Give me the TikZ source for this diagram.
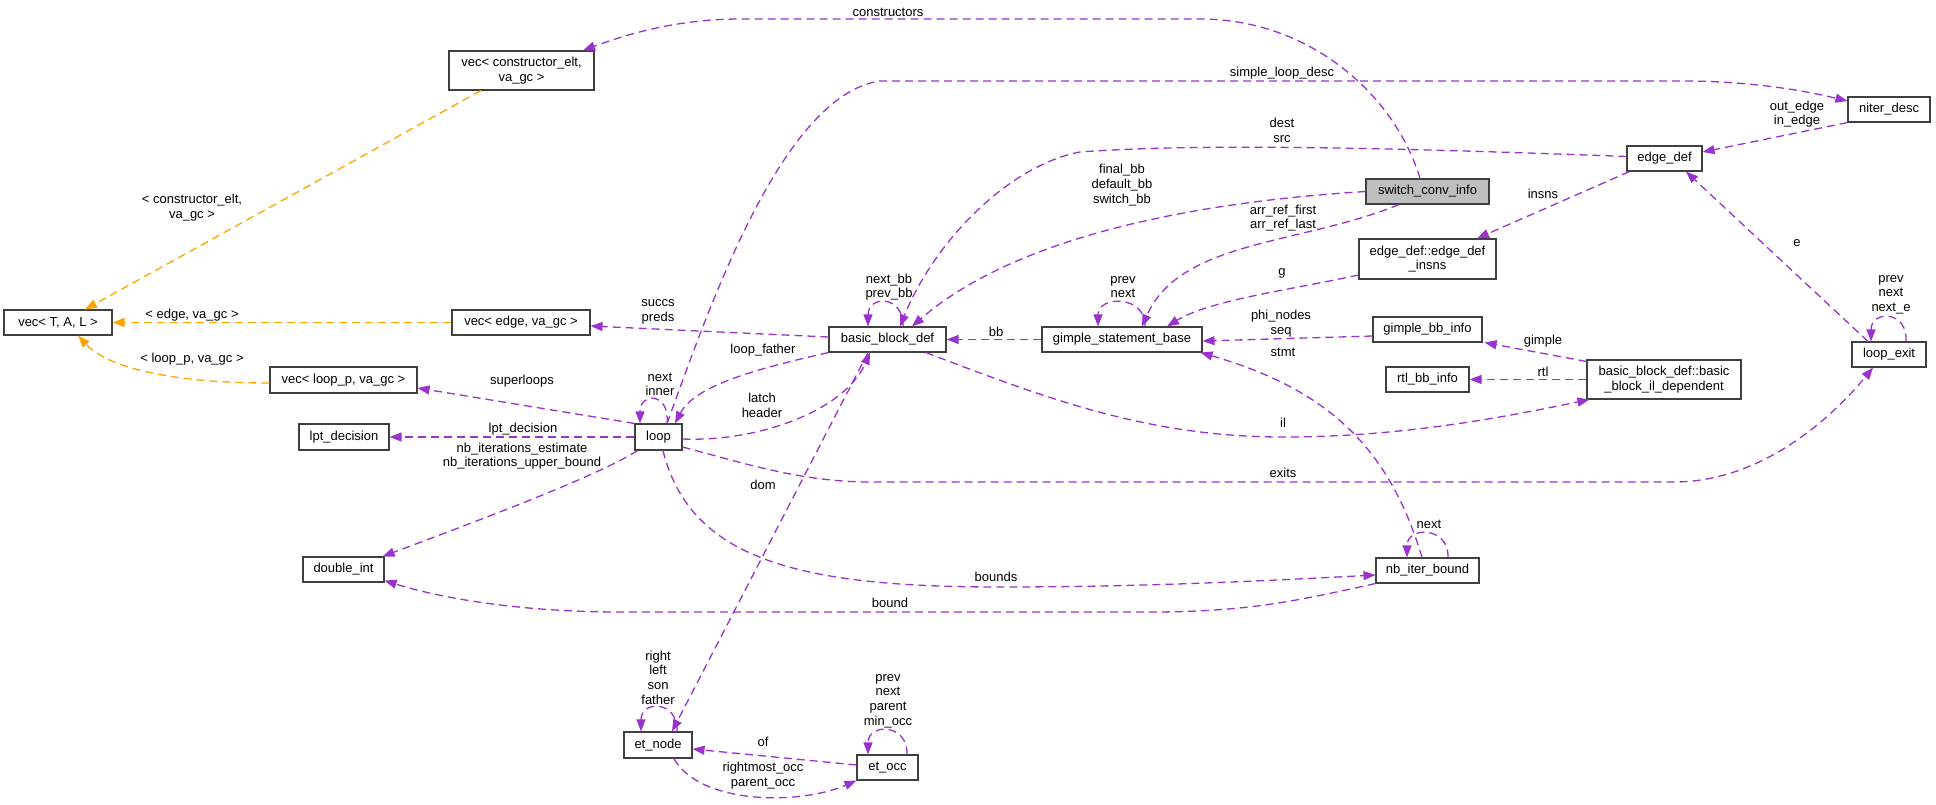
\documentclass[tikz,border=0pt]{standalone}
\usepackage{fontspec}
\setmainfont{Liberation Sans}
\usetikzlibrary{arrows.meta}
\definecolor{edgepurple}{HTML}{9A32CD}
\definecolor{edgeorange}{HTML}{FFA500}
\definecolor{boxline}{HTML}{404040}
\definecolor{boxgray}{HTML}{BFBFBF}
\tikzset{
  cls/.style={draw=boxline, line width=1.1pt, fill=white, inner sep=0pt, align=center,
    font=\fontsize{13}{14.7}\selectfont},
  lbl/.style={inner sep=0pt, align=center, font=\fontsize{13}{14.7}\selectfont},
  uses/.style={draw=edgepurple, line width=1.3pt, dash pattern=on 8pt off 5pt,
    -{Triangle[length=12pt,width=9pt]}},
  tmpl/.style={draw=edgeorange, line width=1.3pt, dash pattern=on 8pt off 5pt,
    -{Triangle[length=12pt,width=9pt]}},
}
\begin{document}
\begin{tikzpicture}[x=1pt,y=-1pt]
\useasboundingbox (0,0) rectangle (1936,804);

% ---------- nodes ----------
\node[cls, minimum width=145pt, minimum height=39pt] (vcelt) at (521.5,70.5) {vec< constructor\_elt,\\va\_gc >};
\node[cls, minimum width=108pt, minimum height=25pt] (vtal) at (58,322.5) {vec< T, A, L >};
\node[cls, minimum width=138pt, minimum height=25pt] (vedge) at (521,322.5) {vec< edge, va\_gc >};
\node[cls, minimum width=147pt, minimum height=26pt] (vloop) at (343.5,380) {vec< loop\_p, va\_gc >};
\node[cls, minimum width=90pt, minimum height=26pt] (lpt) at (344,437) {lpt\_decision};
\node[cls, minimum width=47pt, minimum height=26pt] (loop) at (658.5,437) {loop};
\node[cls, minimum width=81pt, minimum height=25pt] (dint) at (343.5,569.5) {double\_int};
\node[cls, minimum width=68pt, minimum height=26pt] (etnode) at (658,745) {et\_node};
\node[cls, minimum width=61pt, minimum height=25pt] (etocc) at (887.5,767.5) {et\_occ};
\node[cls, minimum width=117pt, minimum height=25pt] (bbd) at (887.5,339.5) {basic\_block\_def};
\node[cls, minimum width=160pt, minimum height=25pt] (gsb) at (1122,339.5) {gimple\_statement\_base};
\node[cls, fill=boxgray, minimum width=123pt, minimum height=25pt] (scinfo) at (1427.5,191.5) {switch\_conv\_info};
\node[cls, minimum width=137pt, minimum height=40pt] (edefins) at (1427.5,259) {edge\_def::edge\_def\\\_insns};
\node[cls, minimum width=109pt, minimum height=25pt] (gbbinfo) at (1427.5,329.5) {gimple\_bb\_info};
\node[cls, minimum width=83pt, minimum height=25pt] (rtl) at (1427.5,379.5) {rtl\_bb\_info};
\node[cls, minimum width=154pt, minimum height=39pt] (ildep) at (1664,379.5) {basic\_block\_def::basic\\\_block\_il\_dependent};
\node[cls, minimum width=75pt, minimum height=25pt] (edgedef) at (1664.5,158.5) {edge\_def};
\node[cls, minimum width=82pt, minimum height=25pt] (niter) at (1889,109.5) {niter\_desc};
\node[cls, minimum width=74pt, minimum height=25pt] (lexit) at (1889,354.5) {loop\_exit};
\node[cls, minimum width=103pt, minimum height=25pt] (nbiter) at (1427.5,570.5) {nb\_iter\_bound};

% ---------- orange template edges ----------
\draw[tmpl] ([xshift=-40.5pt]vcelt.south) -- ([xshift=27pt]vtal.north);
\draw[tmpl] (vedge.west) -- (vtal.east);
\draw[tmpl] ([yshift=-3pt]vloop.west) .. controls (180,383) and (110,370) .. ([xshift=20pt]vtal.south);
\node[lbl] (l1) at (192,207.5) {< constructor\_elt,\\va\_gc >};
\node[lbl] (l2) at (192,315) {< edge, va\_gc >};
\node[lbl] (l3) at (192,359) {< loop\_p, va\_gc >};

% ---------- purple usage edges ----------
% constructors
\draw[uses] ([xshift=-7.5pt]scinfo.north) .. controls (1395,95) and (1310,19) .. (1200,19) -- (740,19)
  .. controls (680,19) and (630,33) .. ([xshift=61.5pt]vcelt.north);
\node[lbl] (lconstr) at (888,12) {constructors};
% simple_loop_desc
\draw[uses] ([xshift=8.5pt]loop.north) .. controls (705,320) and (780,95) .. (880,81) -- (1690,81)
  .. controls (1760,82) and (1810,92) .. ([yshift=8.5pt]niter.west);
\node[lbl] (lsld) at (1282,73) {simple\_loop\_desc};
% dest / src
\draw[uses] ([yshift=2pt]edgedef.west) .. controls (1400,148) and (1200,143) .. (1080,152)
  .. controls (1010,165) and (935,240) .. ([xshift=12.5pt]bbd.north);
\node[lbl] (ldest) at (1282,130.5) {dest\\src};
% final_bb default_bb switch_bb
\draw[uses] (scinfo.west) .. controls (1150,205) and (1000,250) .. ([xshift=24.5pt]bbd.north);
\node[lbl] (lfinal) at (1122,185) {final\_bb\\default\_bb\\switch\_bb};
% arr_ref
\draw[uses] ([xshift=-28.5pt]scinfo.south) .. controls (1300,245) and (1180,240) .. ([xshift=20pt]gsb.north);
\node[lbl] (larr) at (1283,218) {arr\_ref\_first\\arr\_ref\_last};
% g
\draw[uses] ([yshift=-16pt]edefins.west) .. controls (1290,290) and (1210,300) .. ([xshift=45pt]gsb.north);
\node[lbl] (lg) at (1282,273) {g};
% phi_nodes seq
\draw[uses] ([yshift=-6.5pt]gbbinfo.west) -- ([yshift=-1.5pt]gsb.east);
\node[lbl] (lphi) at (1281,323.5) {phi\_nodes\\seq};
% stmt
\draw[uses] ([xshift=-5.5pt]nbiter.north) .. controls (1390,450) and (1330,390) .. ([xshift=-2pt]gsb.south east);
\node[lbl] (lstmt) at (1283,352) {stmt};
% bb
\draw[uses] (gsb.west) -- (bbd.east);
\node[lbl] (lbb) at (996,332) {bb};
% il
\draw[uses] ([xshift=38.5pt]bbd.south) .. controls (1050,400) and (1150,437) .. (1283,437)
  .. controls (1400,437) and (1500,418) .. ([xshift=3pt]ildep.south west);
\node[lbl] (lil) at (1283,423) {il};
% rtl
\draw[uses] (ildep.west) -- (rtl.east);
\node[lbl] (lrtl) at (1543,372) {rtl};
% gimple
\draw[uses] ([yshift=-2pt]ildep.north west) -- ([xshift=2pt]gbbinfo.south east);
\node[lbl] (lgimple) at (1543,341) {gimple};
% insns
\draw[uses] ([xshift=3pt]edgedef.south west) -- ([xshift=49.5pt]edefins.north);
\node[lbl] (linsns) at (1543,194) {insns};
% out_edge in_edge
\draw[uses] (niter.south west) -- ([yshift=6.5pt]edgedef.east);
\node[lbl] (lout) at (1797,114) {out\_edge\\in\_edge};
% e
\draw[uses] ([xshift=-21pt]lexit.north) -- ([xshift=21.5pt]edgedef.south);
\node[lbl] (le) at (1797,243) {e};
% loop_exit self
\draw[uses] ([xshift=17pt]lexit.north) .. controls (1908,310) and (1871,310) .. ([xshift=-18pt]lexit.north);
\node[lbl] (lleself) at (1891,294.5) {prev\\next\\next\_e};
% exits
\draw[uses] ([yshift=-10pt]loop.east) .. controls (740,462) and (800,482) .. (870,482) -- (1674,482)
  .. controls (1760,482) and (1830,420) .. ([xshift=-16pt]lexit.south);
\node[lbl] (lexits) at (1283,473) {exits};
% bounds
\draw[uses] ([xshift=4.5pt]loop.south) .. controls (690,560) and (800,587) .. (1000,587)
  .. controls (1150,587) and (1280,580) .. ([yshift=-4.5pt]nbiter.west);
\node[lbl] (lbounds) at (996,577) {bounds};
% bound
\draw[uses] (nbiter.south west) .. controls (1300,600) and (1250,612) .. (1150,612) -- (620,612)
  .. controls (520,612) and (440,598) .. ([yshift=2pt]dint.south east);
\node[lbl] (lbound) at (890,603) {bound};
% nb_iterations
\draw[uses] ([xshift=3pt]loop.south west) .. controls (600,475) and (480,520) .. ([xshift=-2pt]dint.north east);
\node[lbl] (lnbit) at (522,456) {nb\_iterations\_estimate\\nb\_iterations\_upper\_bound};
% lpt_decision
\draw[uses] (loop.west) -- (lpt.east);
\node[lbl] (llpt) at (523,429) {lpt\_decision};
% superloops
\draw[uses] (loop.north west) -- ([yshift=-8pt]vloop.east);
\node[lbl] (lsuper) at (522,381) {superloops};
% succs preds
\draw[uses] ([yshift=2.5pt]bbd.west) -- ([yshift=-3.5pt]vedge.east);
\node[lbl] (lsuccs) at (658,311.5) {succs\\preds};
% loop_father
\draw[uses] (bbd.south west) .. controls (760,368) and (695,385) .. ([xshift=16.5pt]loop.north);
\node[lbl] (lfather) at (763,350) {loop\_father};
% latch header
\draw[uses] ([yshift=-2pt]loop.east) .. controls (760,442) and (845,410) .. ([xshift=-17.5pt]bbd.south);
\node[lbl] (llatch) at (762,405) {latch\\header};
% loop self
\draw[uses] ([xshift=8.5pt]loop.north) .. controls (670,392) and (640,392) .. ([xshift=-18.5pt]loop.north);
\node[lbl] (lnext) at (660,384.5) {next\\inner};
% dom
\draw[uses] ([xshift=-19.5pt]bbd.south) -- ([xshift=14pt]etnode.north);
\node[lbl] (ldom) at (763,485) {dom};
% et_node self
\draw[uses] ([xshift=19pt]etnode.north) .. controls (678,700) and (641,700) .. ([xshift=-17pt]etnode.north);
\node[lbl] (letself) at (658,677.5) {right\\left\\son\\father};
% of
\draw[uses] ([yshift=2.5pt]etocc.west) -- ([yshift=-4pt]etnode.east);
\node[lbl] (lof) at (763,742) {of};
% rightmost_occ parent_occ
\draw[uses] ([xshift=16pt]etnode.south) .. controls (700,805) and (800,805) .. (etocc.south west);
\node[lbl] (lrocc) at (763,775.5) {rightmost\_occ\\parent\_occ};
% et_occ self
\draw[uses] ([xshift=19.5pt]etocc.north) .. controls (908,723) and (868,723) .. ([xshift=-19.5pt]etocc.north);
\node[lbl] (leoself) at (888,701) {prev\\next\\parent\\min\_occ};
% basic_block_def self
\draw[uses] ([xshift=15.5pt]bbd.north) .. controls (904,295) and (868,295) .. ([xshift=-19.5pt]bbd.north);
\node[lbl] (lbbself) at (889,287) {next\_bb\\prev\_bb};
% gimple_statement_base self
\draw[uses] ([xshift=23pt]gsb.north) .. controls (1146,295) and (1098,295) .. ([xshift=-24pt]gsb.north);
\node[lbl] (lgsself) at (1123,287) {prev\\next};
% nb_iter_bound self
\draw[uses] ([xshift=20.5pt]nbiter.north) .. controls (1449,526) and (1407,526) .. ([xshift=-20.5pt]nbiter.north);
\node[lbl] (lnbself) at (1429,524) {next};
\end{tikzpicture}
\end{document}
